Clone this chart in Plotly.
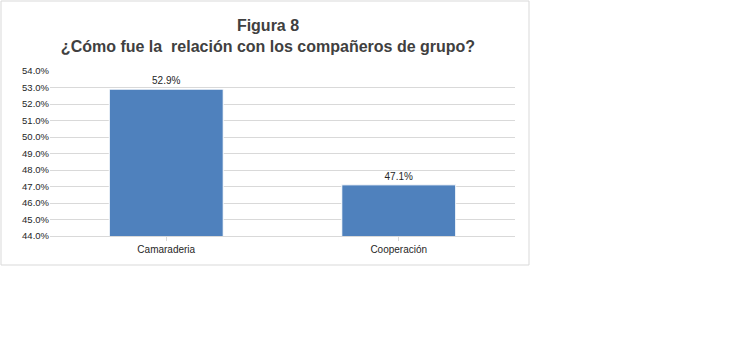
import plotly.graph_objects as go

categories = ["Camaraderia", "Cooperación"]
values = [52.9, 47.1]
labels = ["52.9%", "47.1%"]
tick_vals = [44, 45, 46, 47, 48, 49, 50, 51, 52, 53, 54]
tick_text = ["44.0%", "45.0%", "46.0%", "47.0%", "48.0%", "49.0%", "50.0%", "51.0%", "52.0%", "53.0%", "54.0%"]

FONT = "Liberation Sans, Arial, sans-serif"

fig = go.Figure(go.Bar(
    x=categories, y=values, width=0.49,
    marker=dict(color="#4f81bd", line=dict(color="#ffffff", width=1)),
    text=labels, textposition="outside", cliponaxis=False,
    textfont=dict(family=FONT, size=10, color="#262626"),
))

L, R, T, B = 50, 231, 71, 111
W, H = 746, 347
pw, ph = W - L - R, H - T - B

def px_x(p):
    return (p - L) / pw

def px_y(p):
    return (H - B - p) / ph

fig.add_shape(type="rect", xref="paper", yref="paper",
              x0=px_x(1), x1=px_x(529), y0=px_y(265), y1=px_y(1),
              line=dict(color="#d9d9d9", width=1), fillcolor="rgba(0,0,0,0)", layer="below")

fig.update_layout(
    width=W, height=H,
    margin=dict(l=L, r=R, t=T, b=B),
    paper_bgcolor="white", plot_bgcolor="white",
    showlegend=False,
    title=dict(text="<b>Figura 8</b><br><b>¿Cómo fue la  relación con los compañeros de grupo?</b>",
               xref="container", x=268 / W, xanchor="center", y=1 - 31 / H, yanchor="middle",
               font=dict(family=FONT, size=16, color="#404040")),
    xaxis=dict(showgrid=False, showline=True, linecolor="#d9d9d9", ticks="outside",
               tickcolor="#d9d9d9", ticklen=4,
               tickfont=dict(family=FONT, size=10, color="#262626")),
    yaxis=dict(range=[44, 54], tickvals=tick_vals, ticktext=tick_text,
               showgrid=True, gridcolor="#d9d9d9", zeroline=False, showline=False,
               tickfont=dict(family=FONT, size=9.5, color="#262626")),
    bargap=0.51,
)

fig.write_html("out.html", config={"displayModeBar": False},
               post_script="document.body.style.margin='0';")
